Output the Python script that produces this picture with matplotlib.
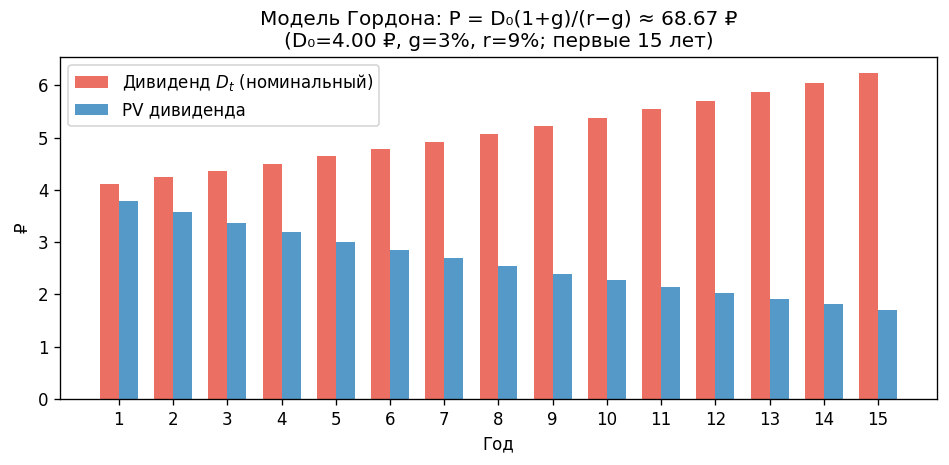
import matplotlib
matplotlib.use("Agg")
import matplotlib.pyplot as plt
import numpy as np

years = list(range(1, 16))
dividends = [4.12, 4.24, 4.37, 4.50, 4.64, 4.78, 4.92, 5.07, 5.22, 5.38, 5.54, 5.70, 5.87, 6.05, 6.23]
pv_dividends = [3.78, 3.57, 3.37, 3.19, 3.01, 2.85, 2.69, 2.54, 2.40, 2.27, 2.15, 2.03, 1.92, 1.81, 1.71]

DPI = 120
fig = plt.figure(figsize=(949 / DPI, 465 / DPI), dpi=DPI)
ax = fig.add_axes([60 / 949, 1 - 399 / 465, (937 - 60) / 949, (399 - 57) / 465])

x = np.array(years)
w = 0.35
ax.bar(x - w/2, dividends, w, color="#e74c3c", alpha=0.8, label=r"Дивиденд $D_t$ (номинальный)")
ax.bar(x + w/2, pv_dividends, w, color="#2980b9", alpha=0.8, label="PV дивиденда")

ax.set_xticks(x)
ax.set_xticklabels([str(y) for y in years])
ax.set_xlabel("Год")
ax.set_ylabel("₽")
ax.set_title("Модель Гордона: P = D₀(1+g)/(r−g) ≈ 68.67 ₽\n(D₀=4.00 ₽, g=3%, r=9%; первые 15 лет)", fontsize=12)
ax.legend(loc="upper left")

fig.savefig("out.png", dpi=DPI)
